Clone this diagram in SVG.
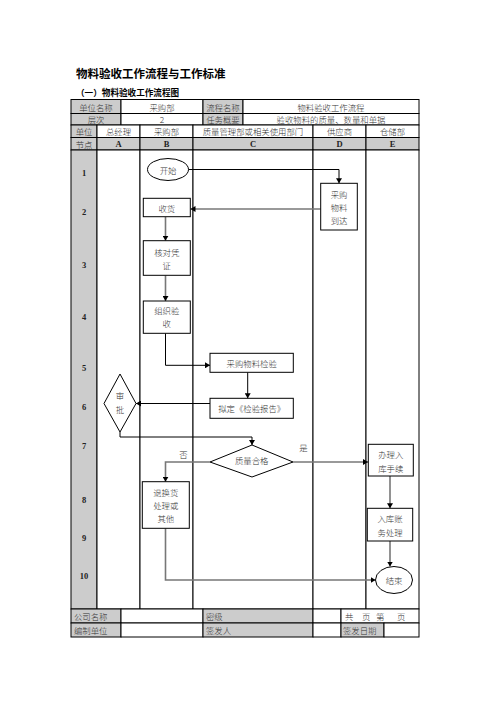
<svg xmlns="http://www.w3.org/2000/svg" width="496" height="702" viewBox="0 0 496 702">
<style>
.bg{fill:#ffffff}
.g{fill:#cccccc;stroke:#000;stroke-width:1}
.w{fill:#ffffff;stroke:#000;stroke-width:1}
.t{font-family:"Noto Sans CJK SC","Liberation Serif",sans-serif;font-size:8.4px;font-weight:300;fill:#333;text-anchor:middle;dominant-baseline:central}
.tl{font-family:"Noto Sans CJK SC","Liberation Serif",sans-serif;font-size:8.4px;font-weight:300;fill:#333;dominant-baseline:central}
.n{font-family:"Liberation Serif",serif;font-size:8.5px;font-weight:bold;fill:#222;text-anchor:middle;dominant-baseline:central}
.node{fill:#fff;stroke:#000;stroke-width:1}
.cb{stroke:#000;stroke-width:1;fill:none;marker-end:url(#ah)}
.cg{stroke:#777;stroke-width:1.6;fill:none;marker-end:url(#ah)}
</style>
<defs>
<marker id="ah" markerUnits="userSpaceOnUse" markerWidth="6" markerHeight="6" refX="5" refY="3" orient="auto">
<path d="M0,0 L5,3 L0,6 Z" fill="#000"/>
</marker>
</defs>
<rect class="bg" x="0" y="0" width="496" height="702"/>
<text x="76" y="78" style="font-family:'Noto Sans CJK SC',sans-serif;font-size:11.5px;font-weight:bold;fill:#000">物料验收工作流程与工作标准</text>
<text x="76" y="96" style="font-family:'Noto Sans CJK SC',sans-serif;font-size:8.6px;font-weight:bold;fill:#000">（一）物料验收工作流程图</text>

<g id="table">
<rect class="g" x="71" y="99.5" width="50" height="14"/>
<rect class="w" x="121" y="99.5" width="82" height="14"/>
<rect class="g" x="203" y="99.5" width="40" height="14"/>
<rect class="w" x="243" y="99.5" width="176" height="14"/>
<rect class="g" x="71" y="113.5" width="50" height="11.5"/>
<rect class="w" x="121" y="113.5" width="82" height="11.5"/>
<rect class="g" x="203" y="113.5" width="40" height="11.5"/>
<rect class="w" x="243" y="113.5" width="176" height="11.5"/>
<rect class="g" x="71" y="125" width="26" height="12.5"/>
<rect class="w" x="97" y="125" width="43" height="12.5"/>
<rect class="w" x="140" y="125" width="53" height="12.5"/>
<rect class="w" x="193" y="125" width="120" height="12.5"/>
<rect class="w" x="313" y="125" width="53" height="12.5"/>
<rect class="w" x="366" y="125" width="53" height="12.5"/>
<rect class="g" x="71" y="137.5" width="26" height="12.5"/>
<rect class="g" x="97" y="137.5" width="43" height="12.5"/>
<rect class="g" x="140" y="137.5" width="53" height="12.5"/>
<rect class="g" x="193" y="137.5" width="120" height="12.5"/>
<rect class="g" x="313" y="137.5" width="53" height="12.5"/>
<rect class="g" x="366" y="137.5" width="53" height="12.5"/>
<rect class="g" x="71" y="150" width="26" height="459"/>
<rect class="w" x="97" y="150" width="43" height="459"/>
<rect class="w" x="140" y="150" width="53" height="459"/>
<rect class="w" x="193" y="150" width="120" height="459"/>
<rect class="w" x="313" y="150" width="53" height="459"/>
<rect class="w" x="366" y="150" width="53" height="459"/>
<rect class="g" x="71" y="609" width="50" height="14"/>
<rect class="w" x="121" y="609" width="82" height="14"/>
<rect class="g" x="203" y="609" width="110" height="14"/>
<rect class="w" x="313" y="609" width="28" height="14"/>
<rect class="w" x="341" y="609" width="78" height="14"/>
<rect class="g" x="71" y="623" width="50" height="14"/>
<rect class="w" x="121" y="623" width="82" height="14"/>
<rect class="g" x="203" y="623" width="110" height="14"/>
<rect class="w" x="313" y="623" width="28" height="14"/>
<rect class="g" x="341" y="623" width="43" height="14"/>
<rect class="w" x="384" y="623" width="35" height="14"/>

<text class="t" x="96" y="106.5">单位名称</text>
<text class="t" x="162" y="106.5">采购部</text>
<text class="t" x="223" y="106.5">流程名称</text>
<text class="t" x="331" y="106.5">物料验收工作流程</text>
<text class="t" x="96" y="119.3">层次</text>
<text class="t" x="162" y="119.3">2</text>
<text class="t" x="223" y="119.3">任务概要</text>
<text class="t" x="331" y="119.3">验收物料的质量、数量和单据</text>
<text class="t" x="84" y="131.3">单位</text>
<text class="t" x="118.5" y="131.3">总经理</text>
<text class="t" x="166.5" y="131.3">采购部</text>
<text class="t" x="253" y="131.3">质量管理部或相关使用部门</text>
<text class="t" x="339.5" y="131.3">供应商</text>
<text class="t" x="392.5" y="131.3">仓储部</text>
<text class="t" x="84" y="143.8">节点</text>
<text class="n" x="118.5" y="143.8">A</text>
<text class="n" x="166.5" y="143.8">B</text>
<text class="n" x="253" y="143.8">C</text>
<text class="n" x="339.5" y="143.8">D</text>
<text class="n" x="392.5" y="143.8">E</text>

<text class="n" x="84" y="173">1</text>
<text class="n" x="84" y="212">2</text>
<text class="n" x="84" y="265">3</text>
<text class="n" x="84" y="317">4</text>
<text class="n" x="84" y="368">5</text>
<text class="n" x="84" y="407">6</text>
<text class="n" x="84" y="446">7</text>
<text class="n" x="84" y="500">8</text>
<text class="n" x="84" y="538">9</text>
<text class="n" x="84" y="576">10</text>

<text class="tl" x="74" y="616">公司名称</text>
<text class="tl" x="206" y="616">密级</text>
<text class="tl" x="345" y="616">共</text>
<text class="tl" x="362" y="616">页</text>
<text class="tl" x="376" y="616">第</text>
<text class="tl" x="397" y="616">页</text>
<text class="tl" x="74" y="630">编制单位</text>
<text class="tl" x="206" y="630">签发人</text>
<text class="tl" x="343" y="630">签发日期</text>
</g>

<g id="connectors">
<path class="cb" d="M188.5 169.5 H339 V183.3"/>
<path class="cg" d="M320.7 209 H190.5"/>
<path class="cg" d="M165.5 216.7 V240.7"/>
<path class="cg" d="M165.5 275.3 V301"/>
<path class="cb" d="M165.5 333.3 V365.3 H210"/>
<path class="cb" d="M247.7 372.3 V398.3"/>
<path class="cb" d="M210 403.5 H136"/>
<path class="cb" d="M120 432 V437 H252 V445"/>
<path class="cg" d="M210 462 H165.5 V481.7"/>
<path class="cg" d="M293 462 H368"/>
<path class="cg" d="M390 476 V508.3"/>
<path class="cg" d="M390 541 V566.5"/>
<path class="cg" d="M165.5 528.3 V580 H375.5"/>
<text class="t" x="183.5" y="454">否</text>
<text class="t" x="303.5" y="447">是</text>
</g>

<g id="start">
<ellipse class="node" cx="168" cy="169.5" rx="20.5" ry="11"/>
<text class="t" x="168" y="169.5">开始</text>
</g>
<g id="arrive">
<rect class="node" x="320.7" y="183.3" width="36.6" height="46.7"/>
<text class="t" x="339" y="193.5">采购</text>
<text class="t" x="339" y="206.7">物料</text>
<text class="t" x="339" y="220">到达</text>
</g>
<g id="receive">
<rect class="node" x="143.3" y="198.3" width="47" height="18.4"/>
<text class="t" x="166.8" y="207.5">收货</text>
</g>
<g id="check">
<rect class="node" x="143.3" y="240.7" width="47" height="34.6"/>
<text class="t" x="166.8" y="251.7">核对凭</text>
<text class="t" x="166.8" y="265">证</text>
</g>
<g id="organize">
<rect class="node" x="143.3" y="301" width="47" height="32.3"/>
<text class="t" x="166.8" y="310">组织验</text>
<text class="t" x="166.8" y="323.3">收</text>
</g>
<g id="inspect">
<rect class="node" x="210" y="353.3" width="83.3" height="19"/>
<text class="t" x="251.7" y="362.8">采购物料检验</text>
</g>
<g id="report">
<rect class="node" x="210" y="398.3" width="83.3" height="20"/>
<text class="t" x="251.7" y="408.3">拟定《检验报告》</text>
</g>
<g id="approve">
<polygon class="node" points="120,374 136,403.5 120,432 104,403.5"/>
<text class="t" x="120" y="395">审</text>
<text class="t" x="120" y="409">批</text>
</g>
<g id="quality">
<polygon class="node" points="210,462 252,445 293,462 252,477"/>
<text class="t" x="251.7" y="460">质量合格</text>
</g>
<g id="return">
<rect class="node" x="142.3" y="481.7" width="47" height="46.6"/>
<text class="t" x="165.8" y="491.7">退换货</text>
<text class="t" x="165.8" y="505">处理或</text>
<text class="t" x="165.8" y="518.3">其他</text>
</g>
<g id="stockin">
<rect class="node" x="368.3" y="444.3" width="45" height="31.7"/>
<text class="t" x="390.8" y="454">办理入</text>
<text class="t" x="390.8" y="468.3">库手续</text>
</g>
<g id="account">
<rect class="node" x="367.3" y="508.3" width="45.4" height="32.7"/>
<text class="t" x="390" y="518.3">入库账</text>
<text class="t" x="390" y="531.7">务处理</text>
</g>
<g id="end">
<ellipse class="node" cx="394" cy="580" rx="18.5" ry="13.5"/>
<text class="t" x="394" y="580">结束</text>
</g>
</svg>
